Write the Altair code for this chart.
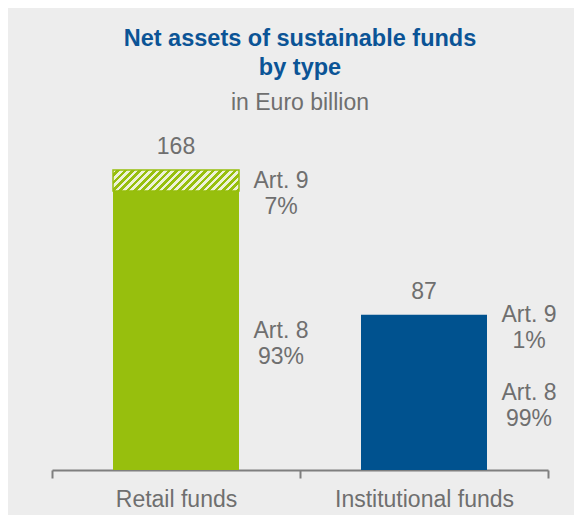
import altair as alt
import pandas as pd

# ---- data ----
funds = ["Retail funds", "Institutional funds"]
totals = [168, 87]
art8_share = [93, 99]
art9_share = [7, 1]
fund_colors = ["#97bf0d", "#00528f"]

# ---- layout / style ----
FONT = "Liberation Sans"
GRAY = "#6f6f6f"
PLOT_W = 496
PLOT_H = 345
PX_PER_UNIT = 300 / 168.0
Y_MAX = PLOT_H / PX_PER_UNIT
BAR_W = 126

rows = []
for f, t, s8, s9 in zip(funds, totals, art8_share, art9_share):
    v8 = t * s8 / 100.0
    v9 = t * s9 / 100.0
    rows.append({"fund": f, "article": "Art. 8", "y0": 0.0, "y1": v8,
                 "mid": v8 / 2, "label": f"Art. 8\n{s8}%"})
    rows.append({"fund": f, "article": "Art. 9", "y0": v8, "y1": v8 + v9,
                 "mid": v8 + v9 / 2, "label": f"Art. 9\n{s9}%"})
seg = pd.DataFrame(rows)
tot = pd.DataFrame({"fund": funds, "total": totals})

# hatch gradient for the retail Art. 9 segment (45 degree stripes)
h_px = totals[0] * art9_share[0] / 100.0 * PX_PER_UNIT
r = h_px / BAR_W
a = (1 + r) / (1 + r * r)
n_stripes = int(round((BAR_W + h_px) / 7.5))
stops = []
for i in range(n_stripes):
    s = i / n_stripes
    m = (i + 0.5) / n_stripes
    e = (i + 1) / n_stripes
    stops += [
        {"offset": s, "color": "#edf2d8"},
        {"offset": m, "color": "#edf2d8"},
        {"offset": m, "color": "#97bf0d"},
        {"offset": e, "color": "#97bf0d"},
    ]
hatch = {"gradient": "linear", "x1": 0, "y1": 0, "x2": a, "y2": a * r, "stops": stops}

x_enc = alt.X("fund:N", sort=funds,
              scale=alt.Scale(domain=funds, paddingInner=0, paddingOuter=0),
              axis=alt.Axis(title=None, labelAngle=0))
y_scale = alt.Scale(domain=[0, Y_MAX], nice=False, zero=True)

bars = alt.Chart(tot).mark_bar(width=BAR_W).encode(
    x=x_enc,
    y=alt.Y("total:Q", scale=y_scale, axis=None),
    color=alt.Color("fund:N", scale=alt.Scale(domain=funds, range=fund_colors), legend=None),
)

hatch_layer = alt.Chart(seg).transform_filter(
    (alt.datum.fund == "Retail funds") & (alt.datum.article == "Art. 9")
).mark_bar(width=BAR_W, fill=hatch, stroke="#97bf0d", strokeWidth=1.5).encode(
    x=x_enc,
    y=alt.Y("y1:Q", scale=y_scale, axis=None),
    y2="y0:Q",
)

total_text = alt.Chart(tot).mark_text(
    baseline="alphabetic", dy=-16, fontSize=23, font=FONT, color=GRAY
).encode(
    x=x_enc,
    y=alt.Y("total:Q", scale=y_scale, axis=None),
    text="total:Q",
)

art_text = alt.Chart(seg).mark_text(
    align="center", baseline="middle", dx=105, fontSize=23, font=FONT,
    color=GRAY, lineBreak="\n", lineHeight=26
).encode(
    x=x_enc,
    y=alt.Y("mid:Q", scale=y_scale, axis=None),
    text="label:N",
)

chart = alt.layer(bars, hatch_layer, total_text, art_text).properties(
    width=PLOT_W,
    height=PLOT_H,
    background="#ededed",
    padding={"left": 44, "top": 117, "right": 26, "bottom": 45},
    autosize=alt.AutoSizeParams(type="none"),
    title=alt.TitleParams(
        text=["Net assets of sustainable funds", "by type"],
        subtitle="in Euro billion",
        font=FONT, fontSize=23.5, fontWeight="bold", color="#0b5496", lineHeight=29,
        subtitleFont=FONT, subtitleFontSize=23, subtitleColor=GRAY,
        subtitlePadding=13, anchor="middle", frame="group", offset=10,
    ),
).configure_view(stroke=None).configure_axis(
    domainColor="#7f7f7f", domainWidth=2, tickColor="#7f7f7f", tickWidth=2,
    tickSize=8, tickBand="extent", labelFont=FONT, labelFontSize=23,
    labelColor=GRAY, labelPadding=10, grid=False,
)

chart.save("out.html", embed_options={"renderer": "svg", "actions": False})
